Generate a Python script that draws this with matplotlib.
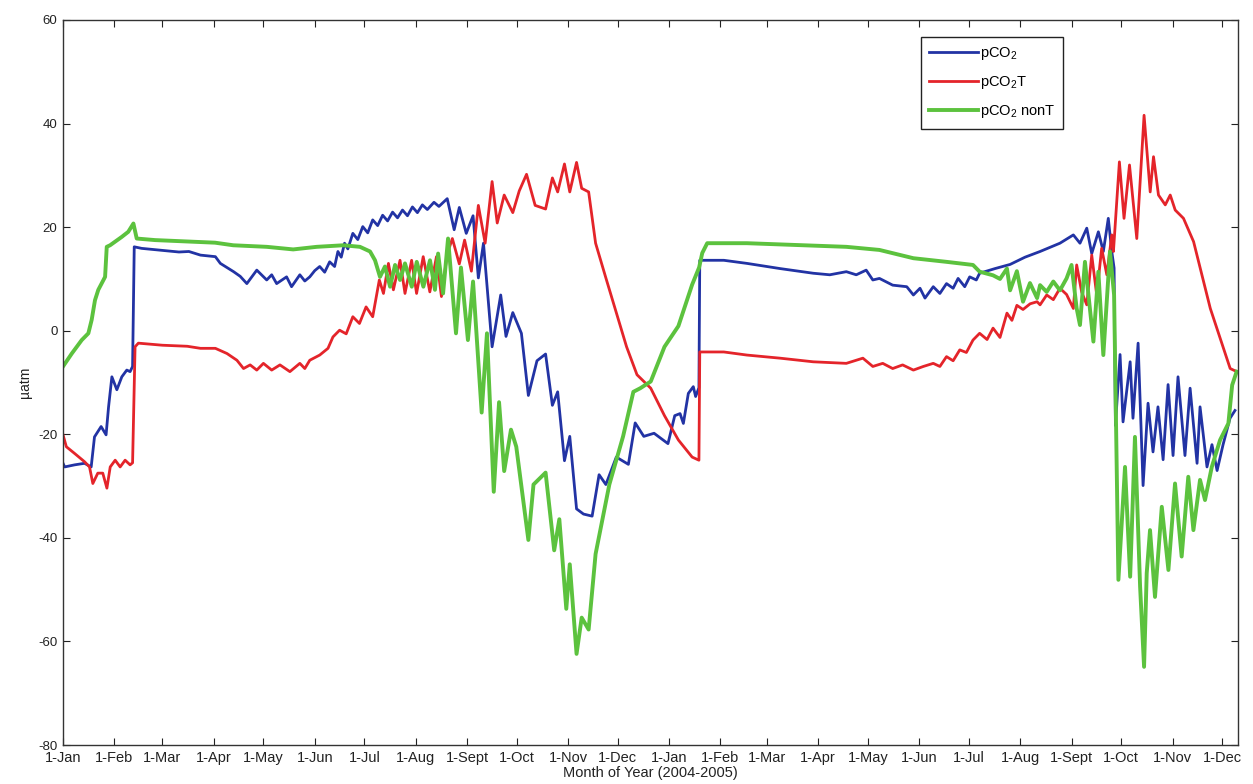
import numpy as np
import pandas as pd
import matplotlib
matplotlib.use("Agg")
import matplotlib.pyplot as plt

plt.rcParams['font.family'] = ['Liberation Sans', 'DejaVu Sans']
plt.rcParams['mathtext.fontset'] = 'custom'
plt.rcParams['mathtext.rm'] = 'Liberation Sans'
plt.rcParams['axes.unicode_minus'] = False

# days since 1-Jan-2004, value in uatm
blue_pts = [(0, -25.6), (1, -26.3), (7, -25.9), (13, -25.6), (17, -26.3), (19, -20.5), (23, -18.5),
            (26, -20.1), (27.5, -14.7), (29.5, -8.9), (32.5, -11.4), (35.5, -8.9), (38.5, -7.6),
            (40.5, -7.9), (42, -6.9), (43, 16.2), (47.5, 15.9), (60, 15.5), (70, 15.2), (76, 15.3),
            (83, 14.6), (92, 14.3), (95, 13), (103, 11.4), (107, 10.5), (111, 9.1), (117, 11.7),
            (123, 9.8), (126, 10.8), (129, 9.1), (135, 10.4), (138, 8.5), (143, 10.8), (146, 9.6),
            (149, 10.4), (152, 11.6), (155, 12.4), (158, 11.3), (161, 13.3), (164, 12.4), (166, 15.3),
            (168, 14.2), (170, 16.9), (172, 15.8), (175, 18.8), (178, 17.6), (181, 20.1), (184, 18.9),
            (187, 21.4), (190, 20.3), (193, 22.3), (196, 21.2), (199, 22.9), (202, 21.8), (205, 23.3),
            (208, 22.2), (211, 23.9), (214, 22.8), (217, 24.3), (220, 23.4), (224, 24.8), (227, 24),
            (232, 25.5), (236.2, 19.5), (239.3, 23.8), (243.5, 18.8), (247.6, 22.2), (250.8, 10.2),
            (253.9, 16.9), (259.1, -3.1), (264.3, 6.9), (267.5, -1.1), (271.6, 3.5), (276.8, -0.5),
            (281, -12.5), (286.2, -5.8), (291.4, -4.5), (295.5, -14.4), (298.7, -11.8), (302.8, -25.1),
            (306, -20.4), (310.1, -34.4), (314.3, -35.4), (319.5, -35.8), (323.7, -27.8), (327.8, -29.7),
            (334.1, -24.4), (341.4, -25.8), (345.5, -17.8), (350.7, -20.4), (356.9, -19.8),
            (365.3, -21.8), (369.4, -16.4), (372.6, -16), (374.6, -17.9), (377.6, -12.1),
            (380.6, -10.8), (382, -12.7), (384, -11), (384.5, 13.6), (399, 13.6), (413, 13), (433, 12),
            (453, 11.1), (463, 10.8), (473, 11.4), (479, 10.8), (485, 11.7), (489, 9.8), (493, 10.1),
            (501, 8.8), (509.5, 8.5), (513.5, 6.9), (517.5, 8.2), (520.5, 6.3), (525.5, 8.5),
            (529.5, 7.2), (533.5, 9.1), (537.5, 8.2), (540.5, 10.1), (544.5, 8.5), (547.5, 10.4),
            (551.5, 9.8), (553.5, 11.1), (562.8, 12), (571.9, 12.8), (580.9, 14.2), (590, 15.3),
            (602, 16.9), (610.1, 18.5), (614.1, 16.9), (618.2, 19.8), (621.2, 14.9), (625.2, 19.1),
            (628.2, 15.3), (631.2, 21.7), (633.3, 15.3), (634.7, 12.1), (635.5, -18.3), (638.3, -4.6),
            (640.1, -17.6), (644.4, -6), (646.1, -16.9), (649.2, -2.4), (652.2, -29.9), (655.2, -14),
            (658.2, -23.4), (661.2, -14.7), (664.3, -24.9), (667.3, -10.4), (670.3, -24.1),
            (673.3, -8.9), (677.5, -24.1), (680.6, -11.1), (684.8, -25.6), (686.6, -14.7),
            (690.8, -26.3), (693.8, -22), (696.9, -27), (700.5, -22), (704.7, -16.9), (707.7, -15.4)]

red_pts = [(0, -20.1), (2, -22.4), (7, -23.7), (13, -25.3), (16, -26.3), (18, -29.5), (21, -27.5),
           (24, -27.5), (26.5, -30.4), (28.5, -26.3), (31.5, -25), (34.5, -26.3), (37.5, -25),
           (40.5, -25.9), (42, -25.5), (43.5, -3.1), (45.5, -2.4), (60, -2.8), (75, -3), (83, -3.4),
           (92, -3.4), (99, -4.4), (105, -5.7), (109, -7.3), (113, -6.6), (117, -7.6), (121, -6.3),
           (126, -7.6), (131, -6.6), (137, -7.9), (143, -6.3), (146, -7.3), (149, -5.7), (155, -4.7),
           (160, -3.4), (163, -1.2), (167, 0.1), (171, -0.6), (175, 2.7), (179, 1.4), (183, 4.6),
           (187, 2.7), (191, 9.8), (193.5, 7.2), (196.5, 13), (199.5, 7.9), (203.5, 13.6),
           (206.5, 7.2), (210.5, 13.6), (213.5, 7.2), (217.5, 14.3), (221.5, 7.5), (225.5, 14.3),
           (228.5, 6.6), (232, 14.8), (235.1, 17.8), (239.3, 12.9), (242.5, 17.5), (246.6, 11.5),
           (250.8, 24.2), (254.9, 16.9), (259.1, 28.8), (262.2, 20.8), (266.4, 26.2), (271.6, 22.8),
           (275.5, 27), (279.9, 30.2), (285.1, 24.2), (291.4, 23.5), (295.5, 29.5), (298.7, 26.8),
           (302.8, 32.2), (306, 26.8), (310.1, 32.5), (313.2, 27.5), (317.4, 26.8), (321.6, 16.9),
           (327.8, 10.2), (334.1, 3.5), (340.3, -3.1), (346.6, -8.5), (354.9, -11.1), (363.2, -16.4),
           (371.6, -21.1), (379.9, -24.4), (384, -25), (384.5, -4.1), (399, -4.1), (413, -4.7),
           (433, -5.3), (453, -6), (473, -6.3), (483, -5.3), (489, -6.9), (495, -6.3), (501, -7.3),
           (507, -6.6), (513.5, -7.6), (519.5, -6.9), (525.5, -6.3), (529.5, -6.9), (533.5, -5),
           (537.5, -5.8), (541.5, -3.7), (545.5, -4.2), (549.5, -1.8), (553.5, -0.5), (558, -1.7),
           (561.6, 0.5), (565.8, -1.3), (570, 3.4), (573, 2), (576, 4.9), (579.7, 4.1), (584, 5.2),
           (588.2, 5.6), (590, 5), (594, 6.9), (598, 6), (602, 8.2), (606, 7), (610.1, 4.3),
           (612.1, 12.7), (615.1, 7.5), (618.2, 5), (621.2, 14.6), (624.2, 6.9), (627.2, 15.9),
           (630.3, 10.8), (633.3, 18.5), (634.3, 15.3), (637.9, 32.6), (640.7, 21.7), (644, 32),
           (646.4, 24.3), (648.4, 17.8), (652.8, 41.6), (656.5, 26.8), (658.5, 33.6), (661.5, 26.2),
           (665.6, 24.3), (668.6, 26.2), (671.6, 23.3), (676.6, 21.7), (682.7, 17.2), (688.7, 9.5),
           (692.8, 4.3), (698.8, -1.5), (704.8, -7.3), (708.8, -7.9)]

green_pts = [(0, -6.9), (5.3, -4.4), (11.3, -1.8), (15.3, -0.5), (17.3, 2.1), (19.3, 5.9), (21.3, 7.9),
             (25.4, 10.4), (26.4, 16.2), (28.4, 16.5), (35.4, 18.1), (39.4, 19.1), (42.5, 20.7),
             (44.5, 17.8), (55.6, 17.5), (91.8, 17), (102.8, 16.5), (123, 16.2), (139, 15.7),
             (153.2, 16.2), (169.3, 16.5), (179.3, 16.2), (185.4, 15.3), (188.4, 13.6), (191.4, 10.4),
             (194.4, 12.4), (197.5, 8.5), (200.5, 12.7), (203.5, 9.8), (206.5, 13), (210.6, 8.5),
             (213.6, 13.3), (217.6, 8.5), (221.6, 13.6), (224.6, 7.9), (226.5, 14.9), (229.5, 7.2),
             (232.5, 17.8), (237.3, -0.5), (240.3, 12.2), (244.5, -1.8), (247.6, 9.5), (252.8, -15.8),
             (256, -0.5), (260.1, -31.1), (263.3, -13.8), (266.4, -27.1), (270.5, -19.1),
             (273.7, -22.4), (281, -40.4), (284.1, -29.7), (291.4, -27.4), (296.6, -42.4),
             (299.7, -36.4), (303.9, -53.7), (306, -45.1), (310.1, -62.4), (313.2, -55.4),
             (317.4, -57.7), (321.6, -43.1), (329.9, -29.7), (338.2, -20.4), (344.4, -11.8),
             (348.6, -11.1), (354.9, -9.8), (363.2, -3.1), (371.6, 0.9), (379.9, 8.9), (384.1, 12.2),
             (386, 15), (389, 16.9), (413, 16.9), (473, 16.2), (493, 15.6), (513.5, 14), (533.5, 13.3),
             (549.5, 12.7), (553.5, 11.4), (561.6, 10.7), (565.8, 10), (570, 12), (571.9, 7.8),
             (576, 11.5), (579.7, 5.6), (583.9, 9.2), (588.2, 6.3), (590, 8.8), (594, 7.5), (598, 9.5),
             (602, 7.8), (606, 10.1), (609, 12.7), (612.1, 4.3), (614.1, 1.1), (617.1, 13.3),
             (622.2, -2.1), (625.2, 11.4), (628.2, -4.7), (632.2, 15.3), (634.7, 6.9), (637.3, -48.1),
             (641.3, -26.3), (644.4, -47.5), (647.3, -20.5), (650.4, -49.4), (652.8, -64.9),
             (654.4, -46.8), (656.4, -38.5), (659.4, -51.4), (663.5, -34), (667.5, -46.2),
             (671.5, -29.5), (675.5, -43.6), (679.5, -28.2), (682.6, -38.5), (686.6, -28.8),
             (689.6, -32.7), (693.7, -26.3), (698.7, -21.1), (703.7, -17.9), (706, -10.5), (708.7, -7.9)]

month_labels = ['1-Jan', '1-Feb', '1-Mar', '1-Apr', '1-May', '1-Jun', '1-Jul', '1-Aug',
                '1-Sept', '1-Oct', '1-Nov', '1-Dec'] * 2

blue = np.array(blue_pts)
red = np.array(red_pts)
green = np.array(green_pts)

# tick positions = first day of each month, as days since 1-Jan-2004
month_starts = pd.date_range('2004-01-01', periods=24, freq='MS')
tick_days = (month_starts - month_starts[0]).days

fig = plt.figure(figsize=(12.53, 7.84), dpi=100)
ax = fig.add_axes([0.0503, 0.0497, 0.9377, 0.9248])

ax.plot(blue[:, 0], blue[:, 1], color='#2233a4', lw=2.0, label='pCO$_2$')
ax.plot(red[:, 0], red[:, 1], color='#e4242a', lw=2.0, label='pCO$_2$T')
ax.plot(green[:, 0], green[:, 1], color='#5cc23e', lw=2.8, label='pCO$_2$ nonT')

ax.set_xlim(0, 709.5)
ax.set_ylim(-80, 60)
ax.set_yticks(range(-80, 61, 20))
ax.set_xticks(tick_days)
ax.set_xticklabels(month_labels)
ax.tick_params(direction='in', length=5, top=True, right=True, colors='#222222')
ax.tick_params(axis='x', labelsize=10.5, pad=4)
ax.tick_params(axis='y', labelsize=9.5, pad=4)
for s in ax.spines.values():
    s.set_color('#333333')
    s.set_linewidth(1.0)

ax.set_xlabel('Month of Year (2004-2005)', fontsize=10.5, color='#222222', labelpad=1)
ax.set_ylabel('µatm', fontsize=10, color='#222222')
ax.yaxis.set_label_coords(-0.026, 0.5)

leg = ax.legend(loc='upper left', bbox_to_anchor=(0.730, 0.977), borderaxespad=0,
                fontsize=10.5, handlelength=3.4, fancybox=False, framealpha=1,
                borderpad=0.55, labelspacing=0.85, handletextpad=0.1)
leg.get_frame().set_edgecolor('#222222')
leg.get_frame().set_linewidth(1.0)

plt.savefig('out.png', dpi=100)
